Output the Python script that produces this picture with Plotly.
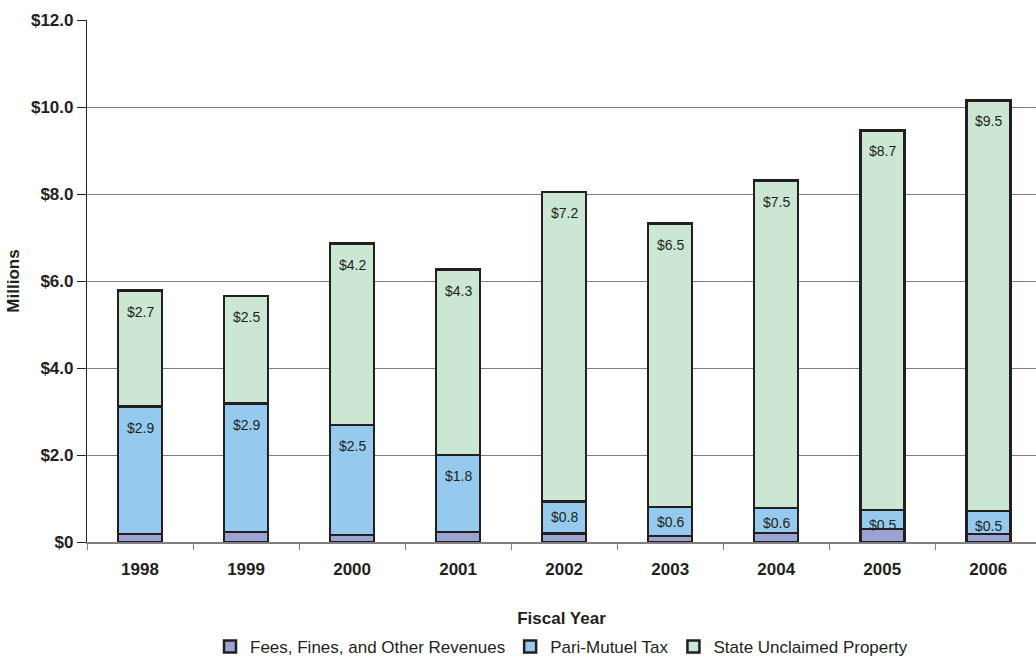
import plotly.graph_objects as go

years = ["1998", "1999", "2000", "2001", "2002", "2003", "2004", "2005", "2006"]
fees = [0.18, 0.23, 0.16, 0.23, 0.19, 0.14, 0.21, 0.30, 0.18]
pari = [2.93, 2.95, 2.53, 1.77, 0.74, 0.67, 0.57, 0.44, 0.53]
state = [2.67, 2.48, 4.17, 4.26, 7.12, 6.51, 7.53, 8.72, 9.44]
pari_labels = ["$2.9", "$2.9", "$2.5", "$1.8", "$0.8", "$0.6", "$0.6", "$0.5", "$0.5"]
state_labels = ["$2.7", "$2.5", "$4.2", "$4.3", "$7.2", "$6.5", "$7.5", "$8.7", "$9.5"]
y_tickvals = [0, 2, 4, 6, 8, 10, 12]
y_ticktext = ["$0", "$2.0", "$4.0", "$6.0", "$8.0", "$10.0", "$12.0"]

FONT = "Liberation Sans, Arial, sans-serif"
EDGE = "#231F20"
TXT = "#231F20"

fig = go.Figure()
series = [
    ("Fees, Fines, and Other Revenues", fees, "#9BA3D3"),
    ("Pari-Mutuel Tax", pari, "#95CAEE"),
    ("State Unclaimed Property", state, "#CCE6D4"),
]
for name, vals, col in series:
    fig.add_trace(go.Bar(
        x=years, y=vals, name=name, width=0.415,
        marker=dict(color=col, line=dict(color=EDGE, width=2.5)),
    ))

annotations = []
for i, yr in enumerate(years):
    base = fees[i]
    top_p = base + pari[i]
    shift_p = -21 if pari[i] > 1.0 else -15
    annotations.append(dict(x=i, xref="x", y=top_p, yref="y", text=pari_labels[i], showarrow=False,
                            yanchor="middle", yshift=shift_p,
                            font=dict(family=FONT, size=14, color=TXT)))
    top_s = top_p + state[i]
    annotations.append(dict(x=i, xref="x", y=top_s, yref="y", text=state_labels[i], showarrow=False,
                            yanchor="middle", yshift=-21,
                            font=dict(family=FONT, size=14, color=TXT)))

fig.update_layout(
    barmode="stack",
    width=1036, height=658,
    margin=dict(l=87, r=0, t=20, b=116),
    paper_bgcolor="white", plot_bgcolor="white",
    font=dict(family=FONT, color=TXT),
    xaxis=dict(
        type="category", range=[-0.5, 8.45], automargin=False,
        showline=True, linecolor="#808080", linewidth=1.5,
        ticks="outside", tickson="boundaries", ticklen=6, tickcolor="#808080",
        ticklabelstandoff=11,
        tickfont=dict(family=FONT, size=17, color=TXT, weight="bold"),
        title=dict(text="<b>Fiscal Year</b>", font=dict(family=FONT, size=17, color=TXT), standoff=34),
    ),
    yaxis=dict(
        range=[0, 12], tickvals=y_tickvals, ticktext=y_ticktext, automargin=False,
        showline=True, linecolor=TXT, linewidth=1.2,
        ticks="outside", ticklen=9, tickcolor=TXT,
        showgrid=True, gridcolor="#808080", gridwidth=1,
        zeroline=False,
        tickfont=dict(family=FONT, size=17, color=TXT, weight="bold"),
        title=dict(text="<b>Millions</b>", font=dict(family=FONT, size=17, color=TXT), standoff=7),
    ),
    legend=dict(
        orientation="h", x=0.5, xanchor="center",
        yref="container", y=0.044, yanchor="top",
        font=dict(family=FONT, size=17, color=TXT),
        traceorder="normal", itemwidth=30,
    ),
    annotations=annotations,
)

fig.write_html("out.html")
